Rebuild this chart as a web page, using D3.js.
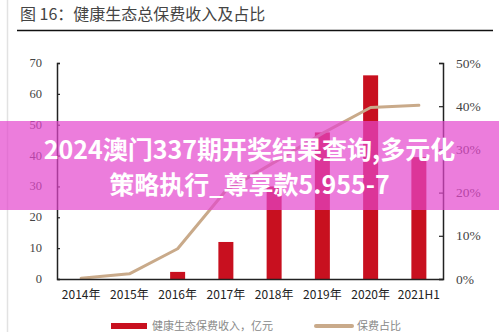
<!DOCTYPE html>
<html>
<head>
<meta charset="utf-8">
<script src="https://cdn.jsdelivr.net/npm/d3@7/dist/d3.min.js"></script>
<style>
  html, body { margin: 0; padding: 0; background: #fff; }
  svg { display: block; }
</style>
</head>
<body>
<svg id="chart" width="499" height="332"></svg>
<script>
// Categories and series
const categories = ["2014年", "2015年", "2016年", "2017年", "2018年", "2019年", "2020年", "2021H1"];
const premiumIncome = [0, 0, 2.3, 12, 30, 47.5, 66, 39.5];      // 亿元
const premiumShare = [0.2, 1.2, 7.0, 20.5, 27.0, 33.7, 39.7, 40.2]; // %
const leftTicks = [0, 10, 20, 30, 40, 50, 60, 70];
const rightTicks = [0, 10, 20, 30, 40, 50];

const titleText = "图 16：健康生态总保费收入及占比";
const legendBarText = "健康生态保费收入，亿元";
const legendLineText = "保费占比";
const bannerLines = ["2024澳门337期开奖结果查询,多元化", "策略执行_尊享款5.955-7"];

const barColor = "#c8101f";
const lineColor = "#c9aa8a";

const svg = d3.select("#chart");
const W = 499, H = 332;
const plot = { left: 57, right: 443, top: 63, bottom: 279 };

// page frame line on the left
svg.append("line")
  .attr("x1", 7.5).attr("x2", 7.5).attr("y1", 0).attr("y2", H)
  .attr("stroke", "#e2e2e2").attr("stroke-width", 1.5);

// title and rule
svg.append("text")
  .attr("x", 20).attr("y", 20)
  .attr("font-family", "'Noto Sans CJK SC', sans-serif")
  .attr("font-size", 16).attr("fill", "#444")
  .text(titleText);
svg.append("line")
  .attr("x1", 17).attr("x2", 493).attr("y1", 30.5).attr("y2", 30.5)
  .attr("stroke", "#111").attr("stroke-width", 1.6);

// scales
const xc = d3.scaleBand().domain(categories).range([plot.left, plot.right]);
const yL = d3.scaleLinear().domain([0, 70]).range([plot.bottom, plot.top]);
const yR = d3.scaleLinear().domain([0, 50]).range([plot.bottom, plot.top]);
const cx = c => xc(c) + xc.bandwidth() / 2;

// bars
svg.append("g").selectAll("rect")
  .data(premiumIncome)
  .join("rect")
  .attr("x", (d, i) => cx(categories[i]) - 7.5)
  .attr("width", 15)
  .attr("y", d => yL(d))
  .attr("height", d => yL(0) - yL(d))
  .attr("fill", barColor);

// share line
const line = d3.line()
  .x((d, i) => cx(categories[i]))
  .y(d => yR(d));
svg.append("path")
  .datum(premiumShare)
  .attr("d", line)
  .attr("fill", "none")
  .attr("stroke", lineColor)
  .attr("stroke-width", 3)
  .attr("stroke-linejoin", "round")
  .attr("stroke-linecap", "round");

// left axis
const axL = svg.append("g").attr("transform", `translate(${plot.left},0)`)
  .call(d3.axisRight(yL).tickValues(leftTicks).tickSize(3).tickFormat(""));
axL.select(".domain").attr("stroke", "#222").attr("stroke-width", 1.5);
axL.selectAll(".tick line").attr("stroke", "#222").attr("stroke-width", 1.2);
svg.append("g").selectAll("text")
  .data(leftTicks)
  .join("text")
  .attr("x", 42).attr("y", d => yL(d) + 4)
  .attr("text-anchor", "end")
  .attr("font-family", "'Liberation Serif', 'DejaVu Serif', serif")
  .attr("font-size", 12.5).attr("fill", "#444")
  .text(d => d);

// right axis
const axR = svg.append("g").attr("transform", `translate(${plot.right},0)`)
  .call(d3.axisLeft(yR).tickValues(rightTicks).tickSize(4).tickFormat(""));
axR.select(".domain").attr("stroke", "#222").attr("stroke-width", 1.5);
axR.selectAll(".tick line").attr("stroke", "#222").attr("stroke-width", 1.2);
svg.append("g").selectAll("text")
  .data(rightTicks)
  .join("text")
  .attr("x", 456).attr("y", d => yR(d) + 4.5)
  .attr("font-family", "'Liberation Serif', 'DejaVu Serif', serif")
  .attr("font-size", 13.5).attr("fill", "#444")
  .text(d => d + "%");

// bottom axis
const axB = svg.append("g").attr("transform", `translate(0,${plot.bottom})`)
  .call(d3.axisBottom(xc).tickSize(0).tickPadding(0));
axB.select(".domain").attr("stroke", "#222").attr("stroke-width", 1.5);
axB.selectAll(".tick text")
  .attr("y", 20).attr("dy", 0)
  .attr("font-family", "'Noto Sans CJK SC', sans-serif")
  .attr("font-size", 12).attr("fill", "#222");

// legend
const legend = svg.append("g");
legend.append("rect")
  .attr("x", 111).attr("y", 323).attr("width", 36).attr("height", 6)
  .attr("fill", barColor);
legend.append("text")
  .attr("x", 152).attr("y", 330)
  .attr("font-family", "'Noto Sans CJK SC', sans-serif")
  .attr("font-size", 11).attr("fill", "#888")
  .text(legendBarText);
legend.append("line")
  .attr("x1", 316).attr("x2", 352).attr("y1", 326).attr("y2", 326)
  .attr("stroke", lineColor).attr("stroke-width", 4).attr("stroke-linecap", "round");
legend.append("text")
  .attr("x", 357).attr("y", 330)
  .attr("font-family", "'Noto Sans CJK SC', sans-serif")
  .attr("font-size", 11).attr("fill", "#888")
  .text(legendLineText);

// overlay banner
svg.append("rect")
  .attr("x", 0).attr("y", 121).attr("width", W).attr("height", 89)
  .attr("fill", "rgb(228,70,205)").attr("fill-opacity", 0.7);
svg.append("g").selectAll("text")
  .data(bannerLines)
  .join("text")
  .attr("x", W / 2)
  .attr("y", (d, i) => 159 + i * 35)
  .attr("text-anchor", "middle")
  .attr("font-family", "'Noto Sans CJK SC', sans-serif")
  .attr("font-weight", 700)
  .attr("font-size", 25)
  .attr("fill", "#fff")
  .text(d => d);
</script>
</body>
</html>
